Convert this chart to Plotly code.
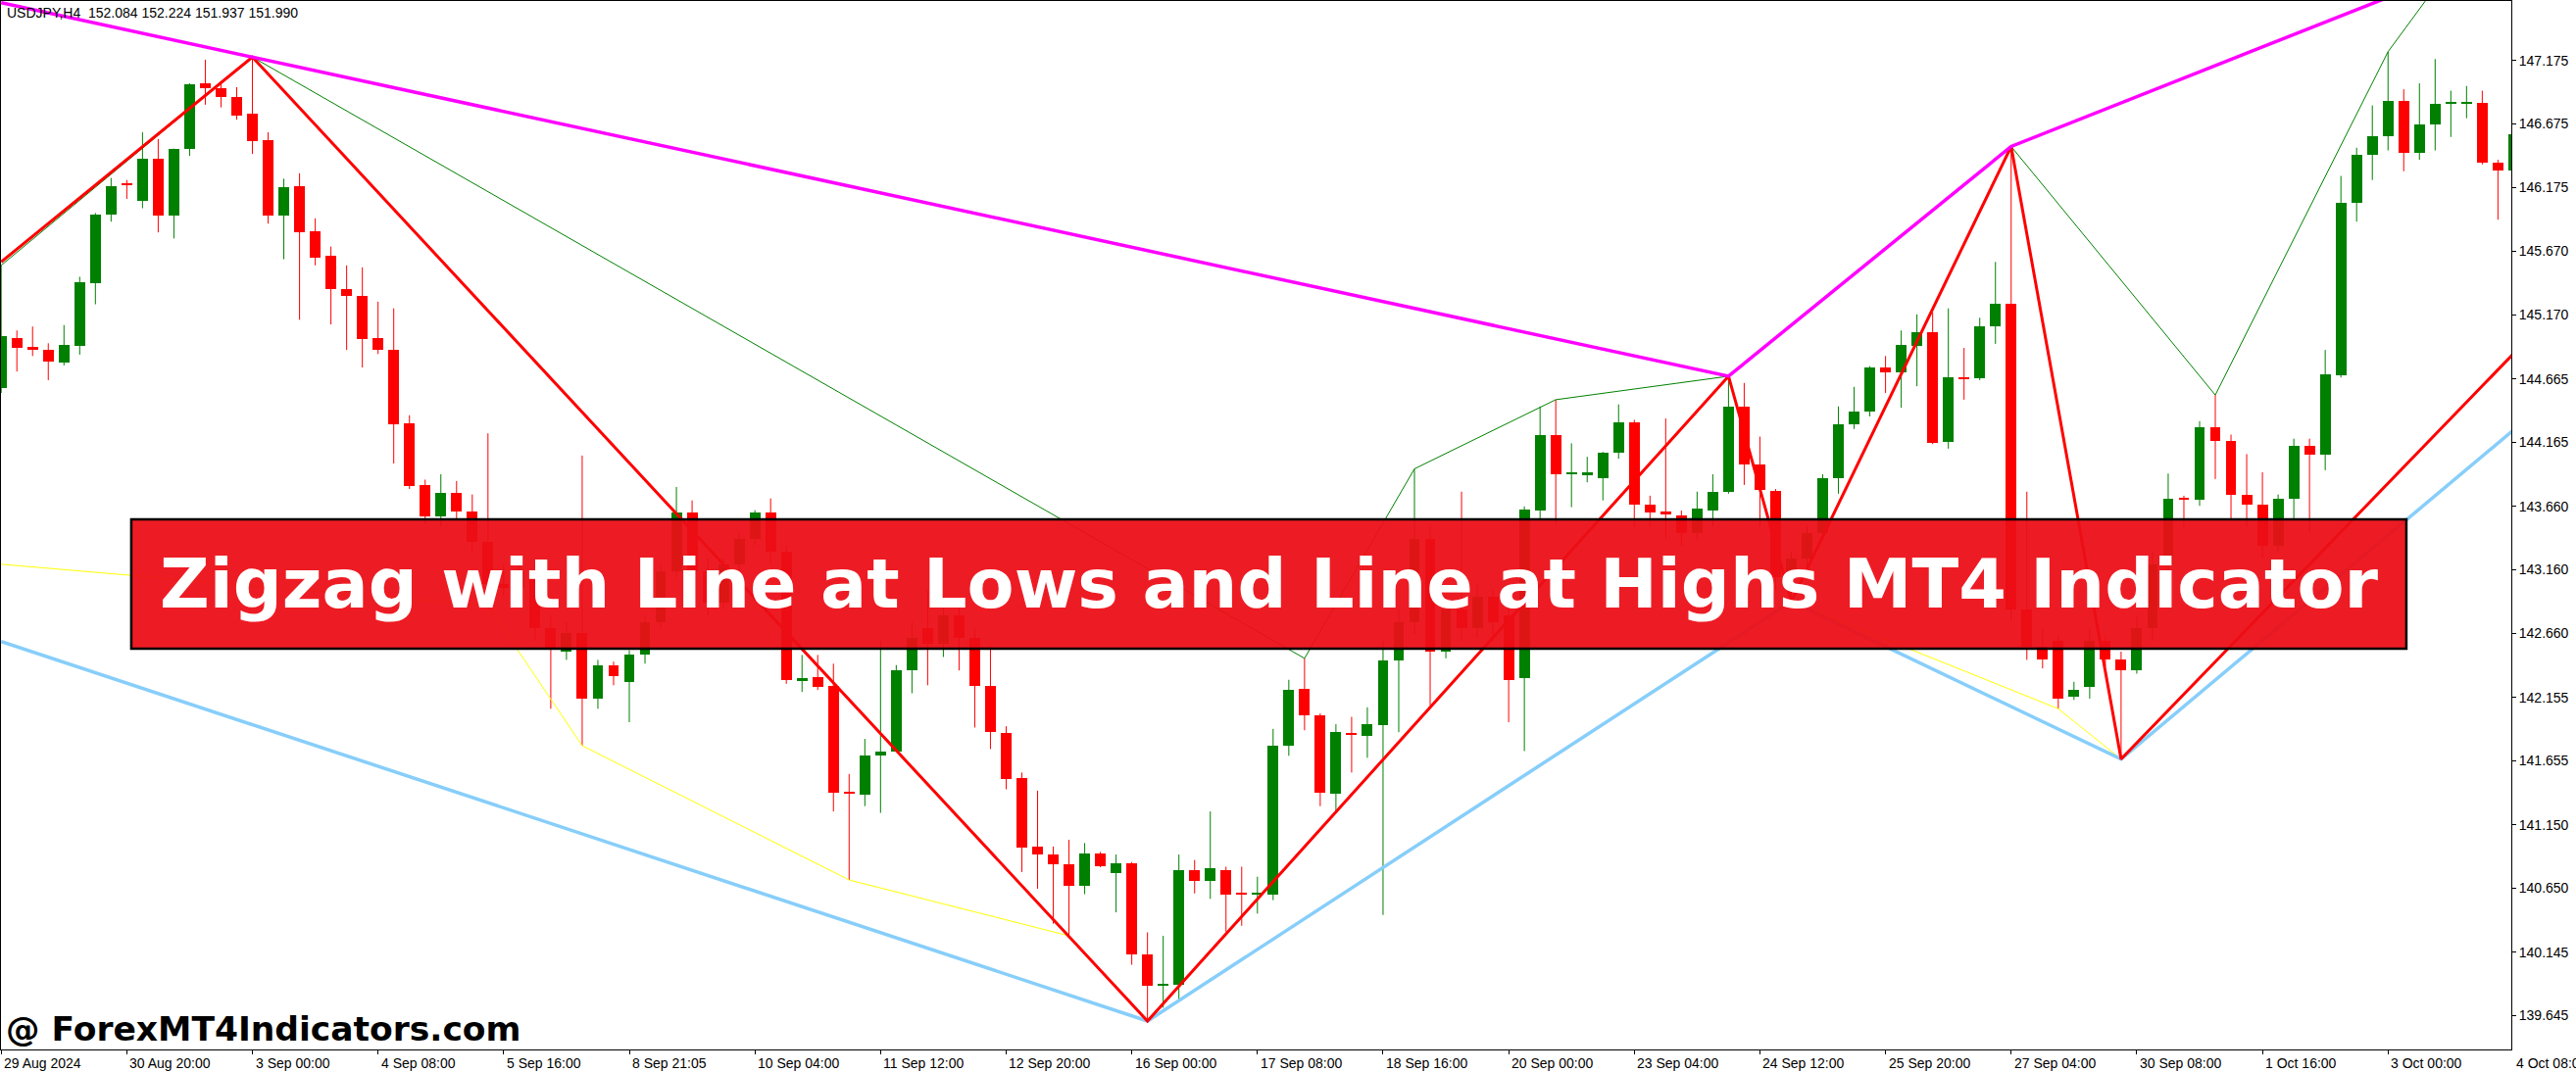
import plotly.graph_objects as go

# ---------------- data (USDJPY H4, bar index 0 = 29 Aug 2024) ----------------
open_ = [144.591,144.988,144.919,144.893,144.792,144.925,145.423,145.957,146.206,146.069,
         146.402,145.952,146.476,146.995,146.958,146.884,146.752,146.545,145.952,146.185,
         145.830,145.634,145.375,145.322,144.988,144.893,144.316,143.829,143.580,143.765,
         143.617,143.380,143.050,143.020,143.150,142.700,142.515,142.660,142.144,142.409,
         142.277,142.489,142.750,143.150,143.611,143.150,142.900,143.200,143.400,143.611,
         143.300,142.288,142.314,142.245,141.410,141.387,141.699,141.731,142.372,142.700,
         142.580,142.800,142.620,142.245,141.874,141.519,140.979,140.916,140.836,140.667,
         140.926,140.773,140.847,140.132,139.884,139.889,140.794,140.704,140.794,140.608,
         140.600,140.603,141.774,142.224,142.012,141.393,141.874,141.848,141.933,142.446,
         142.750,143.400,142.515,142.850,142.700,142.950,142.800,142.303,143.627,144.220,
         143.915,143.908,143.881,144.083,144.321,143.670,143.617,143.590,143.450,143.627,
         143.776,144.448,143.987,143.781,143.100,143.250,143.450,143.881,144.305,144.406,
         144.755,144.713,144.925,145.036,144.167,144.675,144.671,145.083,145.258,142.850,
         142.550,142.600,142.160,142.240,142.600,142.452,142.367,142.700,143.200,143.725,
         143.712,144.284,144.173,143.754,143.675,143.350,143.723,144.136,144.067,144.692,
         146.053,146.434,146.577,146.858,146.445,146.667,146.838,146.838,146.842,146.370,
         146.307]
high = [145.560,145.047,145.078,144.946,145.089,145.470,145.973,146.249,146.233,146.609,
        146.556,146.480,146.995,147.181,146.995,146.964,147.202,146.609,146.243,146.286,
        145.931,145.708,145.560,145.544,145.274,145.221,144.379,143.871,143.913,143.860,
        143.754,144.236,143.200,143.250,143.220,142.800,142.750,144.061,142.450,142.436,
        142.526,142.800,143.200,143.813,143.707,143.250,143.250,143.450,143.630,143.723,
        143.350,142.489,142.489,142.420,141.551,141.827,142.600,142.409,142.750,143.000,
        142.950,142.900,142.700,142.560,141.927,141.562,141.419,140.979,141.032,141.006,
        140.937,140.916,140.857,140.302,140.275,140.916,140.873,141.255,140.820,140.820,
        140.741,141.906,142.293,142.462,142.028,141.943,142.001,142.076,142.600,142.850,
        143.956,143.500,142.950,143.776,143.050,143.000,142.900,143.660,144.448,144.501,
        144.157,144.051,144.090,144.464,144.342,143.744,144.353,143.627,143.776,143.913,
        144.686,144.633,144.210,143.797,143.300,143.500,143.913,144.448,144.602,144.766,
        144.845,145.047,145.174,145.190,145.221,144.909,145.147,145.587,146.497,143.776,
        142.700,142.650,142.277,142.700,142.650,142.515,142.800,143.300,143.919,143.744,
        144.332,144.538,144.226,144.072,143.929,143.754,144.194,144.194,144.893,146.265,
        146.487,146.821,147.244,146.948,146.995,147.186,146.937,146.974,146.937,146.392,
        146.630]
low = [144.554,144.723,144.845,144.655,144.771,144.856,145.253,145.904,146.084,146.010,
       145.820,145.772,146.423,146.826,146.805,146.709,146.439,145.889,145.608,145.131,
       145.560,145.094,144.893,144.755,144.861,143.998,143.797,143.520,143.500,143.550,
       143.300,142.875,142.950,142.900,142.600,142.065,142.450,141.774,142.065,142.250,
       141.959,142.420,142.700,143.100,143.050,142.800,142.850,143.100,143.350,143.200,
       142.261,142.197,142.213,141.255,140.715,141.297,141.244,141.725,142.187,142.250,
       142.473,142.367,141.917,141.747,141.430,140.778,140.646,140.370,140.275,140.603,
       140.815,140.460,140.047,139.603,139.708,139.761,140.609,140.566,140.307,140.354,
       140.450,140.556,141.694,141.895,141.297,141.244,141.562,141.678,140.439,141.880,
       142.650,142.091,142.462,142.600,142.620,142.600,141.959,141.731,143.550,143.520,
       143.654,143.850,143.707,144.035,143.500,143.500,143.400,143.350,143.400,143.500,
       143.760,143.829,143.500,143.000,142.910,143.150,143.400,143.760,144.270,144.369,
       144.554,144.437,144.607,144.151,144.115,144.501,144.655,144.941,142.750,142.450,
       142.383,142.065,142.134,142.144,142.400,141.668,142.341,142.600,143.100,143.500,
       143.664,143.876,143.550,143.500,143.250,143.300,143.550,143.450,143.945,144.676,
       145.904,146.233,146.466,146.302,146.392,146.466,146.572,146.720,146.355,145.920,
       146.249]
close = [145.004,144.909,144.893,144.798,144.930,145.428,145.963,146.185,146.190,146.402,
         145.952,146.476,146.990,146.953,146.884,146.741,146.540,145.952,146.175,145.820,
         145.624,145.370,145.317,144.983,144.893,144.310,143.818,143.580,143.765,143.617,
         143.380,143.050,143.020,143.150,142.700,142.531,142.660,142.144,142.409,142.319,
         142.489,142.750,143.150,143.611,143.150,142.900,143.200,143.400,143.611,143.300,
         142.288,142.303,142.235,141.403,141.398,141.694,141.731,142.367,142.620,142.580,
         142.800,142.620,142.245,141.880,141.509,140.969,140.916,140.836,140.667,140.926,
         140.820,140.847,140.132,139.878,139.892,140.794,140.704,140.810,140.603,140.600,
         140.608,141.774,142.213,142.012,141.403,141.880,141.866,141.943,142.446,142.750,
         143.400,142.515,142.850,142.700,142.950,142.750,142.288,143.638,144.220,143.913,
         143.920,143.929,144.083,144.321,143.670,143.611,143.595,143.450,143.643,143.776,
         144.448,143.987,143.786,143.100,143.250,143.450,143.881,144.305,144.406,144.755,
         144.713,144.935,145.036,144.162,144.681,144.665,145.083,145.258,142.850,142.550,
         142.450,142.144,142.213,142.600,142.452,142.367,142.700,143.200,143.723,143.717,
         144.284,144.173,143.754,143.670,143.350,143.723,144.136,144.067,144.702,146.053,
         146.434,146.577,146.858,146.445,146.672,146.831,146.846,146.846,146.370,146.307,
         146.593]

x_tick_bars = list(range(0, 161, 8))
x_tick_labels = ["29 Aug 2024", "30 Aug 20:00", "3 Sep 00:00", "4 Sep 08:00", "5 Sep 16:00",
                 "8 Sep 21:05", "10 Sep 04:00", "11 Sep 12:00", "12 Sep 20:00", "16 Sep 00:00",
                 "17 Sep 08:00", "18 Sep 16:00", "20 Sep 00:00", "23 Sep 04:00", "24 Sep 12:00",
                 "25 Sep 20:00", "27 Sep 04:00", "30 Sep 08:00", "1 Oct 16:00", "3 Oct 00:00",
                 "4 Oct 08:00"]
y_tick_values = [147.175, 146.675, 146.175, 145.670, 145.170, 144.665, 144.165, 143.660,
                 143.160, 142.660, 142.155, 141.655, 141.150, 140.650, 140.145, 139.645]

# indicator lines (bar index, price)
zigzag_bars = [0, 16, 73, 110, 114, 128, 135, 160]
zigzag_prices = [145.587, 147.202, 139.603, 144.686, 142.910, 146.497, 141.668, 144.865]
thin_high_bars = [0, 16, 83, 90, 99, 110, 128, 141, 152, 160]
thin_high_prices = [145.560, 147.202, 142.462, 143.956, 144.501, 144.686, 146.497, 144.538, 147.244, 148.590]
thin_low_bars = [0, 31, 37, 54, 68, 73, 114, 131, 135]
thin_low_prices = [143.204, 142.875, 141.774, 140.715, 140.275, 139.603, 142.910, 142.065, 141.668]
line_highs_bars = [0, 16, 110, 128, 160]
line_highs_prices = [147.630, 147.202, 144.686, 146.497, 148.065]
line_lows_bars = [0, 73, 114, 135, 160]
line_lows_prices = [142.595, 139.603, 142.910, 141.668, 144.263]

symbol_header = "USDJPY,H4\u00a0\u00a0152.084 152.224 151.937 151.990"
banner_text = "Zigzag with Line at Lows and Line at Highs MT4 Indicator"
watermark_text = "@ ForexMT4Indicators.com"

# ---------------- figure ----------------
UP, DOWN = "#008000", "#FF0000"
X_RANGE = [-0.0125, 159.85]
Y_RANGE = [139.379, 147.644]

fig = go.Figure()

for is_up, color in ((True, UP), (False, DOWN)):
    idx = [i for i in range(len(open_)) if (close[i] >= open_[i]) == is_up]
    wx, wy = [], []
    for i in idx:
        wx += [i, i, None]
        wy += [low[i], high[i], None]
    fig.add_trace(go.Scatter(x=wx, y=wy, mode="lines",
                             line=dict(color=color, width=1), hoverinfo="skip"))
    fig.add_trace(go.Bar(x=idx,
                         base=[min(open_[i], close[i]) for i in idx],
                         y=[max(abs(close[i] - open_[i]), 0.008) for i in idx],
                         width=0.68, marker=dict(color=color, line=dict(width=0)),
                         hoverinfo="skip"))

def add_line(xs, ys, color, width):
    fig.add_trace(go.Scatter(x=xs, y=ys, mode="lines",
                             line=dict(color=color, width=width), hoverinfo="skip"))

add_line(thin_low_bars, thin_low_prices, "#FFFF00", 1)
add_line(thin_high_bars, thin_high_prices, "#008000", 1)
add_line(line_lows_bars, line_lows_prices, "#87CEFA", 3.5)
add_line(zigzag_bars, zigzag_prices, "#FF0000", 3)
add_line(line_highs_bars, line_highs_prices, "#FF00FF", 3.5)

annotations = []
span = X_RANGE[1] - X_RANGE[0]
for b, lab in zip(x_tick_bars, x_tick_labels):
    annotations.append(dict(text=lab, xref="paper", yref="paper",
                            x=(b - X_RANGE[0]) / span, y=0, xanchor="left", yanchor="top",
                            xshift=1, yshift=-4, showarrow=False,
                            font=dict(family="Liberation Sans", size=14, color="black")))
annotations.append(dict(text=symbol_header, xref="paper", yref="paper", x=0.0016, y=1,
                        xanchor="left", yanchor="top", yshift=-2, showarrow=False,
                        font=dict(family="Liberation Sans", size=14, color="black")))
annotations.append(dict(text="<b>" + banner_text + "</b>", xref="paper", yref="paper",
                        x=0.5051, y=0.4439, xanchor="center", yanchor="middle",
                        showarrow=False,
                        font=dict(family="DejaVu Sans", size=70, color="white")))
annotations.append(dict(text="<b>" + watermark_text + "</b>", xref="paper", yref="paper",
                        x=0.0012, y=0.0192, xanchor="left", yanchor="middle",
                        showarrow=False,
                        font=dict(family="DejaVu Sans", size=34.5, color="black")))

fig.update_layout(
    width=2628, height=1094,
    margin=dict(l=1, r=66, t=1, b=23, pad=0),
    paper_bgcolor="white", plot_bgcolor="white",
    showlegend=False, barmode="overlay", bargap=0,
    hovermode=False,
    annotations=annotations,
    shapes=[dict(type="rect", xref="paper", yref="paper",
                 x0=0.0519, x1=0.9582, y0=0.3822, y1=0.5056,
                 fillcolor="rgba(236,14,22,0.94)",
                 line=dict(color="black", width=2.5), layer="above")],
    xaxis=dict(range=X_RANGE, showgrid=False, zeroline=False, showline=True,
               linecolor="black", linewidth=1, mirror=True,
               ticks="outside", ticklen=4, tickcolor="black",
               tickvals=[b for b in x_tick_bars if X_RANGE[0] <= b <= X_RANGE[1]],
               showticklabels=False, fixedrange=True),
    yaxis=dict(range=Y_RANGE, side="right", showgrid=False, zeroline=False,
               showline=True, linecolor="black", linewidth=1, mirror=True,
               ticks="outside", ticklen=4, tickcolor="black",
               tickvals=y_tick_values, ticktext=["%.3f" % v for v in y_tick_values],
               tickfont=dict(family="Liberation Sans", size=14, color="black"),
               fixedrange=True),
)

fig.write_html("out.html", config={"displayModeBar": False},
               post_script="document.body.style.margin='0';document.body.style.overflow='hidden';")
